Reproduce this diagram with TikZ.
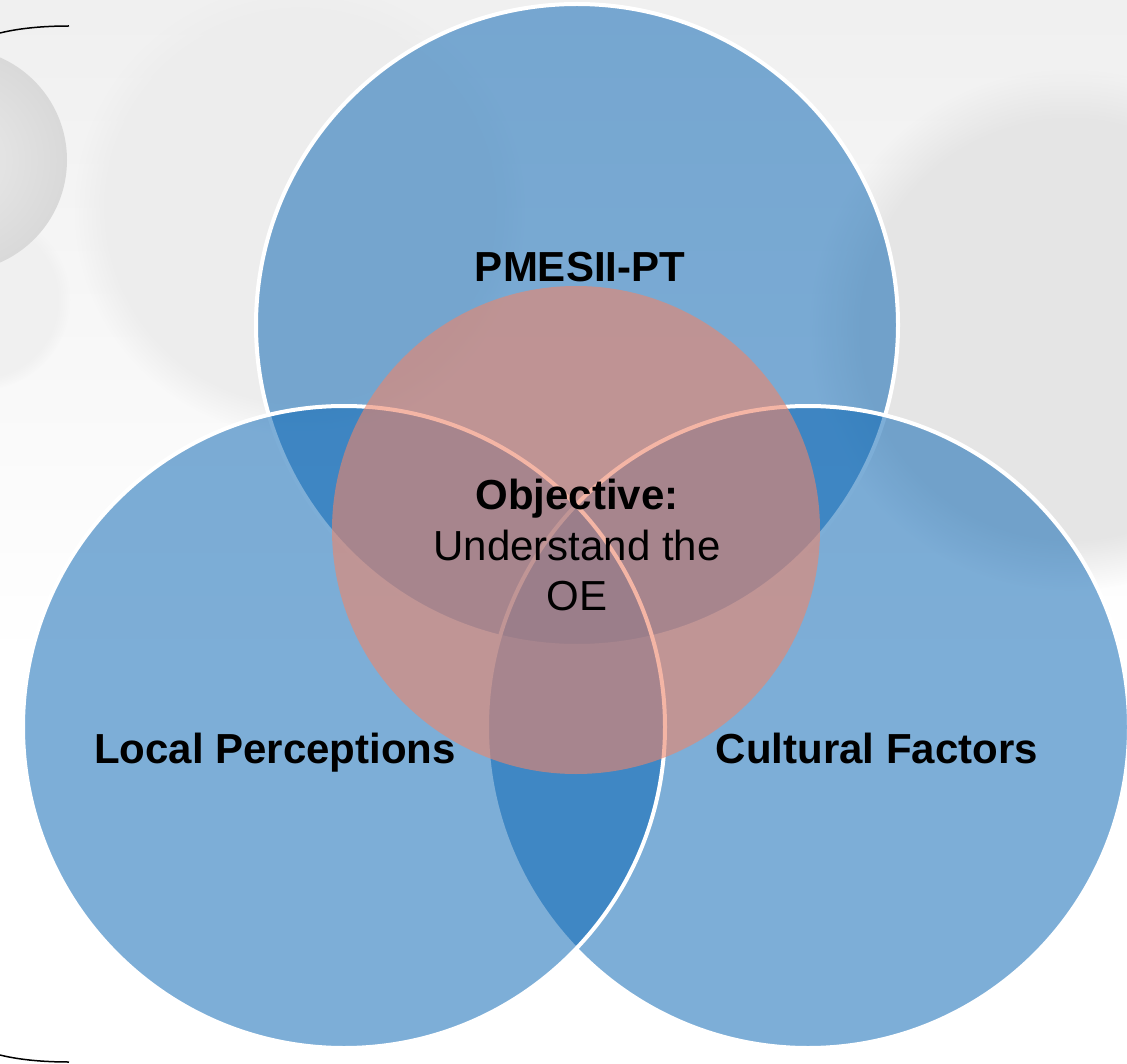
\documentclass[tikz,border=0pt]{standalone}
\usepackage{fontspec}
\setmainfont{Liberation Sans}
\usetikzlibrary{positioning,fadings}

\definecolor{setblue}{RGB}{7,100,179}
\definecolor{coresalmon}{RGB}{237,133,106}

\begin{document}
\begin{tikzpicture}[x=1pt,y=-1pt,
		set node/.style={circle,draw=white,line width=4pt,fill=setblue,fill opacity=0.52,minimum size=642pt,inner sep=0pt},
		core node/.style={circle,fill=coresalmon,fill opacity=0.6,minimum size=488pt,inner sep=0pt},
		text node/.style={font=\fontsize{42}{50.5}\selectfont\bfseries,align=center}]
		
		% background
		\useasboundingbox (0,0) rectangle (1127,1064);
		\fill[white] (0,0) rectangle (1127,1064);
		\shade[top color=black!6, bottom color=white] (0,0) rectangle (1127,660);
		\fill[black!7, path fading=circle with fuzzy edge 15 percent] (300,210) circle (225pt);
		\fill[black!10, path fading=circle with fuzzy edge 20 percent] (1070,330) circle (260pt);
		\fill[black!6, path fading=circle with fuzzy edge 15 percent] (-20,300) circle (90pt);
		\shade[inner color=black!8, outer color=black!15] (-45,160) circle (112pt);
		\draw[line width=1.5pt] (0,33) .. controls (20,28) and (45,26) .. (69,26);
		\draw[line width=1.5pt] (0,1055) .. controls (20,1060) and (45,1062) .. (69,1062);
		
		% sets
		\node[set node] (top) at (577,325) {};
		\node[set node] (right) at (808,727) {};
		\node[set node] (left) at (344,727) {};
		\node[core node] (core) at (576,530) {};
		
		\node[text node, anchor=base] (pmesii) at (580,282) {PMESII-PT};
		\node[text node, anchor=base] (local) at (275,763) {Local Perceptions};
		\node[text node, anchor=base] (cultural) at (877,763) {Cultural Factors};
		\node[text node, font=\fontsize{42}{50.5}\selectfont] (objective) at (577,545) {\textbf{Objective:}\\Understand the\\OE};
		
\end{tikzpicture}
\end{document}
